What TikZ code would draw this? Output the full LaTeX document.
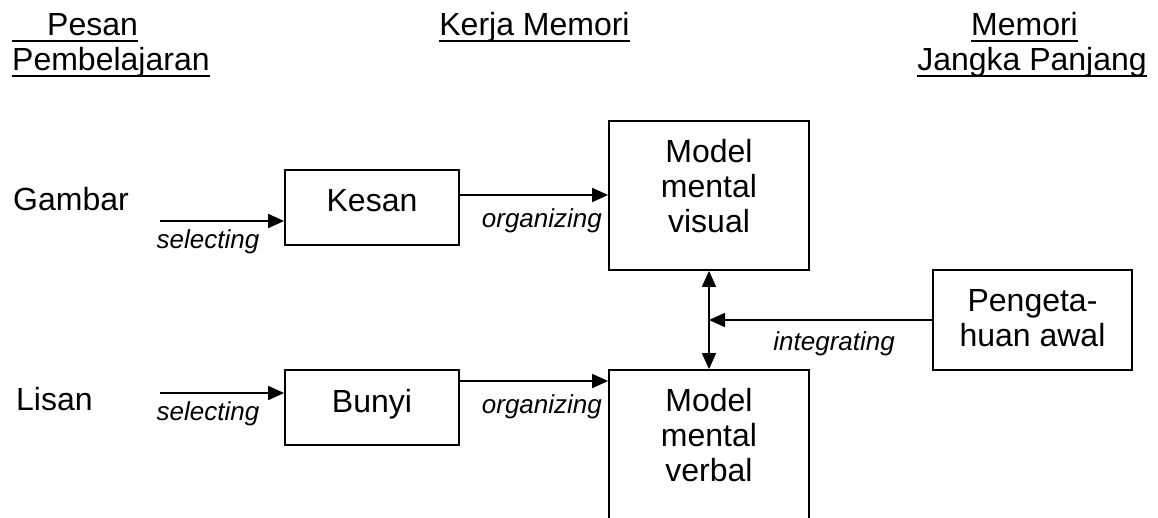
\documentclass[tikz,border=0pt]{standalone}
\usepackage{fontspec}
\setmainfont{Liberation Sans}
\usetikzlibrary{positioning,arrows.meta,calc}
\newcommand{\hdr}[1]{\setbox0\hbox{#1}\rlap{\rule[-7pt]{\wd0}{2pt}}\box0}
\tikzset{
  box/.style={draw=black, line width=1.8pt, inner sep=0pt, align=center},
  arr/.style={-{Triangle[length=16pt,width=14pt]}, line width=1.8pt},
  dbl/.style={{Triangle[length=16pt,width=14pt]}-{Triangle[length=16pt,width=14pt]},
    line width=1.8pt},
  lab/.style={font=\fontsize{26pt}{30pt}\selectfont\itshape, inner sep=0pt},
  head/.style={inner sep=0pt},
}

\begin{document}
\begin{tikzpicture}[x=1pt, y=-1pt, font=\fontsize{32pt}{35pt}\selectfont]
  \useasboundingbox (0,0) rectangle (1158,517);
  % judul kolom
  \node[head, align=left, anchor=base west] (hpesan) at (12,70)
    {\hdr{\hspace*{35pt}Pesan}\\\hdr{Pembelajaran}};
  \node[head, anchor=base] (hkerja) at (534.5,35) {\hdr{Kerja Memori}};
  \node[head, align=center, anchor=base] (hjangka) at (1032,70)
    {\hdr{Memori}\hspace*{15pt}\\\hdr{Jangka Panjang}};
  % masukan
  \node[head, anchor=base west] (gambar) at (13,210) {Gambar};
  \node[head, anchor=base west] (lisan) at (16,410) {Lisan};
  % kotak
  \node[box, minimum width=174pt, minimum height=75pt, text depth=14pt] (kesan) at (372,207.5) {Kesan};
  \node[box, minimum width=174pt, minimum height=75pt, text depth=14pt] (bunyi) at (372,407.5) {Bunyi};
  \node[box, minimum width=200pt, minimum height=149pt, text depth=19pt] (visual) at (709,195.5)
    {Model\\mental\\visual};
  \node[box, minimum width=200pt, minimum height=149pt, text depth=19pt] (verbal) at (709,444.5)
    {Model\\mental\\verbal};
  \node[box, minimum width=199pt, minimum height=100pt, text depth=5pt] (awal) at (1032.5,320)
    {Pengeta-\\huan awal};
  % panah
  \coordinate (g) at (160,221);
  \coordinate (l) at (160,393);
  \coordinate (o1) at ($(kesan.east)+(0,-12.5)$);
  \coordinate (o2) at ($(bunyi.east)+(0,-26.5)$);
  \draw[arr] (g) -- (g -| kesan.west);
  \draw[arr] (l) -- (l -| bunyi.west);
  \draw[arr] (o1) -- (o1 -| visual.west);
  \draw[arr] (o2) -- (o2 -| verbal.west);
  \draw[dbl] (visual.south) -- (verbal.north);
  \draw[arr] (awal.west) -- (awal.west -| visual.south);
  % label panah
  \node[lab, anchor=base] (sel1) at ($(g)+(48,27)$) {selecting};
  \node[lab, anchor=base] (sel2) at ($(l)+(48,27)$) {selecting};
  \node[lab, anchor=base] (org1) at ($(o1)+(82,32)$) {organizing};
  \node[lab, anchor=base] (org2) at ($(o2)+(82,32)$) {organizing};
  \node[lab, anchor=base] (integ) at ($(awal.west)+(-98,30)$) {integrating};
\end{tikzpicture}
\end{document}
